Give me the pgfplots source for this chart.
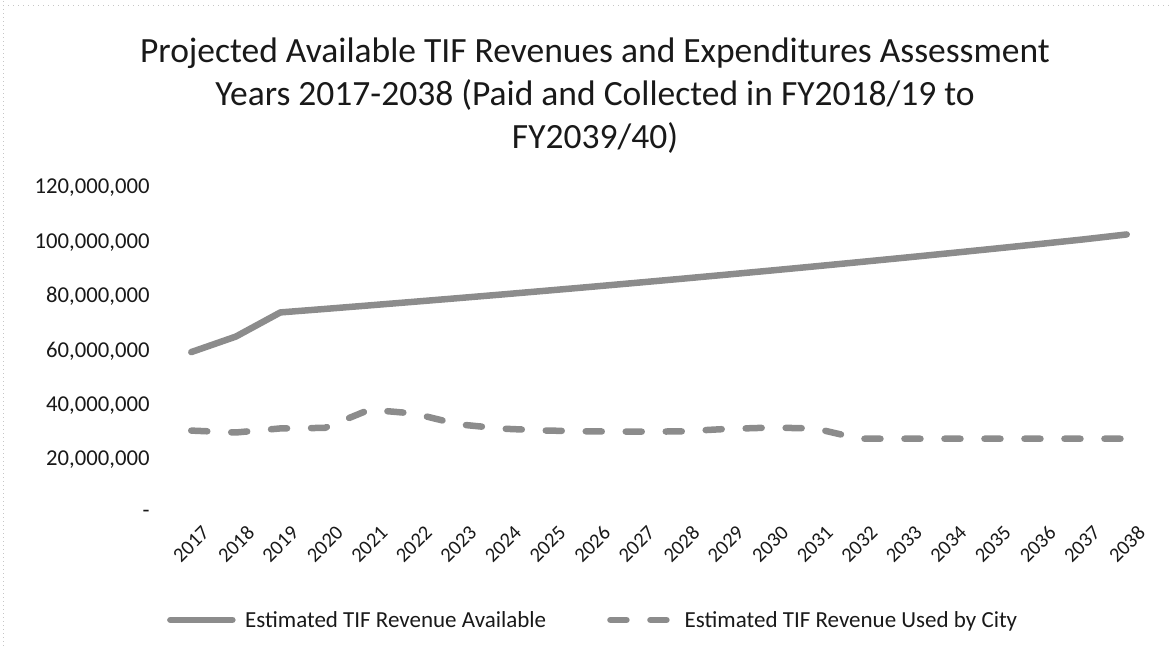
\documentclass[border=0pt]{standalone}
\usepackage{pgfplots}
\pgfplotsset{compat=1.18}
\usepackage{fontspec}
\setmainfont{Carlito}
\definecolor{linegray}{RGB}{140,140,140}
\definecolor{txt}{RGB}{25,25,25}
\pgfplotsset{
  legsolid/.style={legend image code/.code={\draw[##1] (3bp,0bp) -- (65bp,0bp); \path (72.5bp,0bp);}},
  legdash/.style={legend image code/.code={\draw[##1] (3bp,0bp) -- (65bp,0bp); \path (72bp,0bp);}},
}
\begin{document}
\begin{tikzpicture}
\useasboundingbox (0,0) rectangle (1171bp,646bp);
\draw[gray!45, line width=0.6bp, dash pattern=on 1bp off 3bp] (3bp,0bp) -- (3bp,646bp);
\draw[gray!45, line width=0.6bp, dash pattern=on 1bp off 4bp] (3bp,641bp) -- (1171bp,641bp);
\begin{axis}[
  at={(169bp,132bp)}, anchor=south west,
  scale only axis, width=980bp, height=326bp,
  xmin=2016.5, xmax=2038.5, ymin=0, ymax=120000000,
  scaled y ticks=false,
  axis line style={draw=none}, tick style={draw=none},
  xtick={2017,...,2038},
  xticklabels={2017,2018,2019,2020,2021,2022,2023,2024,2025,2026,2027,2028,2029,2030,2031,2032,2033,2034,2035,2036,2037,2038},
  xticklabel style={rotate=45, anchor=north east, font=\fontsize{20.5bp}{24bp}\selectfont, text=txt, xshift=3bp, yshift=-11bp},
  ytick={0,20000000,40000000,60000000,80000000,100000000,120000000},
  yticklabels={{-\hspace{11.5bp}},{20,000,000},{40,000,000},{60,000,000},{80,000,000},{100,000,000},{120,000,000}},
  yticklabel style={anchor=east, font=\fontsize{22.7bp}{26bp}\selectfont, text=txt, xshift=-16bp},
  title={Projected Available TIF Revenues and Expenditures Assessment\\Years 2017-2038 (Paid and Collected in FY2018/19 to\\FY2039/40)},
  title style={at={(rel axis cs:0.4347,1.264)}, anchor=center, align=center, font=\fontsize{35.5bp}{43bp}\selectfont, text=txt},
  legend columns=2,
  legend style={at={(rel axis cs:0.4328,-0.325)}, anchor=center, draw=none, fill=none,
    font=\fontsize{23bp}{26bp}\selectfont, text=txt,
    /tikz/every even column/.append style={column sep=59bp}},
  legend cell align=left,
]
\addplot[linegray, line width=6.5bp, line cap=round, line join=round, legsolid]
  coordinates {
  (2017,59600000) (2018,65300000) (2019,74200000) (2020,75480000) (2021,76790000)
  (2022,78120000) (2023,79470000) (2024,80840000) (2025,82240000) (2026,83660000)
  (2027,85110000) (2028,86580000) (2029,88080000) (2030,89600000) (2031,91150000)
  (2032,92730000) (2033,94330000) (2034,95960000) (2035,97620000) (2036,99310000)
  (2037,101030000) (2038,102900000)};
\addlegendentry{Estimated TIF Revenue Available}
\addplot[linegray, line width=6.5bp, line cap=round, line join=round, dash pattern=on 16bp off 24bp, legdash]
  coordinates {
  (2017,30700000) (2018,30000000) (2019,31500000) (2020,31700000) (2021,38400000)
  (2022,37000000) (2023,33000000) (2024,31400000) (2025,30700000) (2026,30400000)
  (2027,30300000) (2028,30400000) (2029,31300000) (2030,31800000) (2031,31500000)
  (2032,27700000) (2033,27700000) (2034,27700000) (2035,27700000) (2036,27700000)
  (2037,27700000) (2038,27700000)};
\addlegendentry{Estimated TIF Revenue Used by City}
\end{axis}
\end{tikzpicture}
\end{document}
